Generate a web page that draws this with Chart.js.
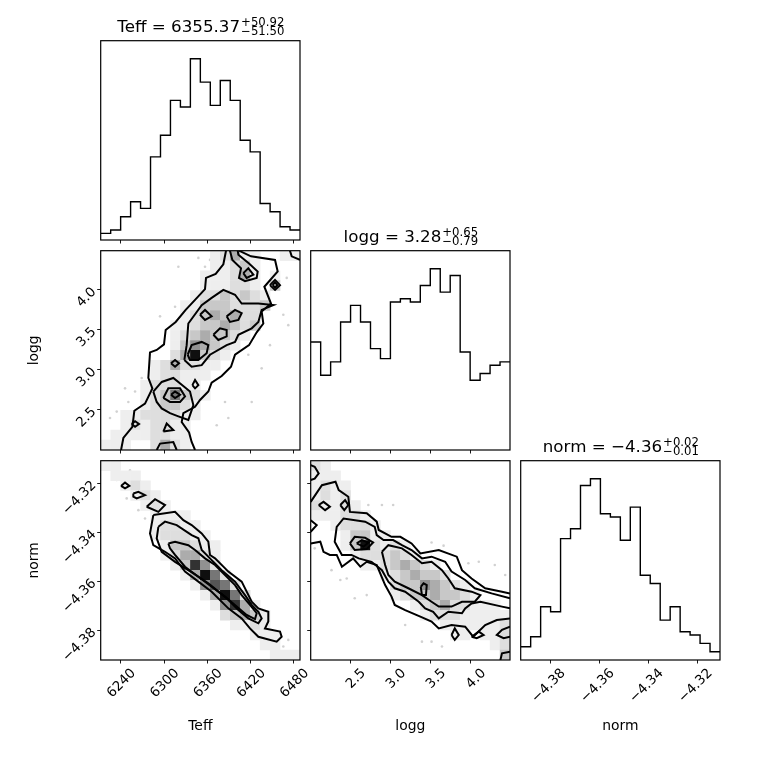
<!DOCTYPE html>
<html>
<head>
<meta charset="utf-8">
<script src="https://cdn.jsdelivr.net/npm/chart.js@4.4.0/dist/chart.umd.min.js"></script>
<style>
  html, body { margin: 0; background: #fff; }
  #wrap { position: relative; width: 760px; height: 760px; }
  #wrap canvas { position: absolute; left: 0; top: 0; }
</style>
</head>
<body>
<div id="wrap"></div>
<script>
// === DATA ===
const teffRange = [6212.3, 6488.4];
const loggRange = [2.0, 4.49];
const normRange = [-4.3921, -4.3107];

const teffTicks = [6240, 6300, 6360, 6420, 6480];
const loggTicks = [2.5, 3.0, 3.5, 4.0];
const normTicks = [-4.38, -4.36, -4.34, -4.32];

// 1d histograms, 20 bins each
const teffCounts = [4, 6, 14, 23, 19, 50, 63, 84, 80, 109, 95, 81, 96, 84, 60, 53, 22, 17, 8, 6];
const loggCounts = [65, 45, 53, 77, 87, 77, 61, 55, 89, 91, 89, 99, 109, 95, 105, 59, 42, 46, 51, 53];
const normCounts = [8, 14, 32, 29, 73, 79, 105, 109, 88, 86, 72, 92, 51, 46, 24, 32, 17, 15, 10, 5];

// name, median, +err, -err
const teffTitle = ['Teff', '6355.37', '+50.92', '\u221251.50'];
const loggTitle = ['logg', '3.28', '+0.65', '\u22120.79'];
const normTitle = ['norm', '\u22124.36', '+0.02', '\u22120.01'];

// 2d histograms, density level 0-9 per bin, top row first
const teffLoggGrid = [
  '...........12411..11',
  '...........11231....',
  '..........111241.1..',
  '..........111221.3..',
  '.........12232321...',
  '........113332223...',
  '........12343422....',
  '.......112334323....',
  '.......12343321.....',
  '.......1354321......',
  '.......249321.......',
  '.....1242211........',
  '.....122111.........',
  '....122211..........',
  '....1236321.........',
  '....123321..........',
  '..11222211..........',
  '..1212211...........',
  '.11112211...........',
  '111..2421...........'
];
const teffNormGrid = [
  '11..................',
  '.111................',
  '..121...............',
  '...121..............',
  '....121.............',
  '.....1111...........',
  '.....12211..........',
  '.....122211.........',
  '......133211........',
  '......124421........',
  '.......13852........',
  '........14962.......',
  '.........15762......',
  '..........14962.....',
  '...........15841....',
  '............23431...',
  '.............1121...',
  '...............111..',
  '................11..',
  '.................111'
];
const loggNormGrid = [
  '21..................',
  '111.................',
  '1211................',
  '1212................',
  '21121...............',
  '111221..............',
  '..12221.............',
  '...13311............',
  '...1392121..........',
  '....1222321.........',
  '.....11234321.......',
  '.......1234332......',
  '........23354321....',
  '........123343321...',
  '..........123422111.',
  '...........122211111',
  '.............1111112',
  '..............11.112',
  '..................12',
  '...................3'
];

// contour lines
const teffLoggContours = [
  [[6240.5,2.0],[6243.7,2.15],[6256.2,2.29],[6258.9,2.49],[6273.7,2.58],[6283.9,2.77],[6278.3,2.90],[6280.6,3.22],[6289.9,3.25],[6300,3.32],[6302.3,3.50],[6316.2,3.60],[6330,3.75],[6343,3.875],[6356.8,4.01],[6358.2,4.15],[6371.6,4.20],[6382.2,4.32],[6385.9,4.49]],
  [[6403.9,4.49],[6420.5,4.42],[6453.8,4.375],[6457.5,4.23],[6439,4.04],[6448.2,3.83],[6435.3,3.73],[6437.6,3.58],[6428.4,3.47],[6417.8,3.31],[6398.4,3.19],[6392.8,3.04],[6379.9,2.925],[6366,2.84],[6361.4,2.73],[6349.9,2.625],[6343,2.54],[6326.8,2.46],[6324.5,2.35],[6334.7,2.22],[6338.3,2.10],[6343,2.0]],
  [[6474.5,4.49],[6476.9,4.42],[6488.4,4.375]],
  [[6328.2,3.125],[6331.4,3.31],[6333.7,3.58],[6352.2,3.81],[6366,3.90],[6382.2,4.0],[6398.4,3.94],[6407.6,3.83],[6430.7,3.83],[6451.5,3.81],[6435.3,3.75],[6430.7,3.60],[6421.5,3.52],[6403,3.44],[6398.4,3.35],[6386.8,3.31],[6363.7,3.19],[6352.2,3.06],[6338.3,3.04],[6328.2,3.125]],
  [[6391.4,4.49],[6394.7,4.375],[6406.7,4.27],[6403.9,4.15],[6412.2,4.11],[6428.4,4.15],[6429.8,4.23],[6417.8,4.33],[6403,4.44],[6402.1,4.49]],
  [[6332.8,3.19],[6338.3,3.31],[6352.2,3.35],[6361.4,3.31],[6359.1,3.21],[6347.6,3.125],[6336,3.125],[6332.8,3.19]],
  [[6368.4,3.44],[6377.6,3.52],[6386.8,3.50],[6386.8,3.42],[6375.3,3.375],[6368.4,3.44]],
  [[6386.8,3.67],[6398.4,3.75],[6407.6,3.71],[6403,3.625],[6391.4,3.60],[6386.8,3.67]],
  [[6349.9,3.69],[6356.8,3.75],[6366,3.67],[6356.8,3.625],[6349.9,3.69]],
  [[6409.9,4.21],[6416.8,4.27],[6423.8,4.19],[6414.5,4.15],[6409.9,4.21]],
  [[6446.8,4.06],[6453.8,4.125],[6460.7,4.06],[6453.8,4.0],[6446.8,4.06]],
  [[6450.5,4.06],[6453.8,4.096],[6457,4.06],[6453.8,4.03],[6450.5,4.06]],
  [[6309.7,3.083],[6315.3,3.125],[6320.8,3.083],[6315.3,3.04],[6309.7,3.083]],
  [[6285.2,2.73],[6296.8,2.85],[6312.9,2.90],[6325.4,2.81],[6336,2.73],[6340.7,2.56],[6333.7,2.375],[6319.9,2.42],[6308.3,2.46],[6296.8,2.52],[6289.9,2.60],[6285.2,2.73]],
  [[6299.1,2.65],[6306,2.77],[6322.2,2.77],[6329.1,2.67],[6322.2,2.60],[6308.3,2.60],[6299.1,2.65]],
  [[6309.7,2.69],[6315.3,2.73],[6322.2,2.69],[6315.3,2.65],[6309.7,2.69]],
  [[6299.1,2.23],[6303.7,2.33],[6312.9,2.25],[6299.1,2.23]],
  [[6339.3,2.81],[6343,2.875],[6347.6,2.81],[6343,2.77],[6339.3,2.81]],
  [[6289.9,2.0],[6294.5,2.08],[6312.9,2.10],[6317.6,2.0]],
  [[6255.2,2.325],[6259.9,2.36],[6265.4,2.325],[6259.9,2.29],[6255.2,2.325]]
];
const teffNormContours = [
  [[6285.2,-4.3329],[6315.3,-4.3316],[6326.8,-4.3350],[6338.3,-4.3370],[6352.2,-4.3404],[6361.4,-4.3438],[6363.7,-4.3492],[6370.7,-4.3506],[6389.1,-4.3560],[6407.6,-4.3601],[6421.5,-4.3683],[6430.7,-4.3710],[6444.5,-4.3724],[6444.5,-4.3764],[6439.9,-4.3792],[6460.7,-4.3805],[6463,-4.3826],[6456.1,-4.3846],[6430.7,-4.3826],[6419.1,-4.3792],[6407.6,-4.3751],[6389.1,-4.3710],[6366,-4.3642],[6347.6,-4.3601],[6329.1,-4.3560],[6315.3,-4.3506],[6301.4,-4.3479],[6285.2,-4.3452],[6280.6,-4.3404],[6285.2,-4.3329]],
  [[6292.2,-4.3377],[6301.4,-4.3356],[6317.6,-4.3370],[6338.3,-4.3411],[6347.6,-4.3424],[6352.2,-4.3472],[6363.7,-4.3506],[6379.9,-4.3554],[6398.4,-4.3601],[6412.2,-4.3656],[6421.5,-4.3696],[6430.7,-4.3724],[6435.3,-4.3751],[6430.7,-4.3771],[6416.8,-4.3751],[6403,-4.3717],[6386.8,-4.3669],[6361.4,-4.3608],[6340.7,-4.3567],[6315.3,-4.3520],[6296.8,-4.3479],[6289.9,-4.3424],[6292.2,-4.3377]],
  [[6306,-4.3445],[6315.3,-4.3438],[6333.7,-4.3452],[6343,-4.3472],[6356.8,-4.3506],[6370.7,-4.3533],[6384.5,-4.3574],[6398.4,-4.3615],[6407.6,-4.3656],[6419.1,-4.3696],[6428.4,-4.3730],[6426.1,-4.3754],[6414.5,-4.3737],[6400.7,-4.3703],[6384.5,-4.3662],[6366,-4.3622],[6347.6,-4.3581],[6329.1,-4.3540],[6315.3,-4.3492],[6308.3,-4.3465],[6306,-4.3445]],
  [[6240.5,-4.3210],[6246,-4.3196],[6252,-4.3210],[6246,-4.3220],[6240.5,-4.3210]],
  [[6257.5,-4.3241],[6264.5,-4.3234],[6273.7,-4.3248],[6262.2,-4.3261],[6257.5,-4.3254],[6257.5,-4.3241]],
  [[6276,-4.3295],[6287.6,-4.3264],[6301.4,-4.3288],[6292.2,-4.3316],[6276,-4.3295]]
];
const loggNormContours = [
  [[2.00,-4.3275],[2.14,-4.3207],[2.31,-4.3193],[2.35,-4.3227],[2.47,-4.3254],[2.49,-4.3316],[2.70,-4.3322],[2.825,-4.3356],[2.85,-4.3390],[3.01,-4.3418],[3.12,-4.3418],[3.26,-4.3445],[3.37,-4.3486],[3.60,-4.3472],[3.825,-4.3499],[3.89,-4.3554],[4.01,-4.3588],[4.18,-4.3628],[4.39,-4.3642],[4.49,-4.3649]],
  [[4.49,-4.3751],[4.325,-4.3758],[4.18,-4.3778],[4.03,-4.3826],[3.93,-4.3785],[3.76,-4.3778],[3.60,-4.3792],[3.51,-4.3764],[3.37,-4.3744],[3.18,-4.3717],[3.05,-4.3696],[3.01,-4.3662],[2.93,-4.3615],[2.825,-4.3533],[2.70,-4.3520],[2.62,-4.3540],[2.53,-4.3506],[2.39,-4.3540],[2.325,-4.3492],[2.24,-4.3492],[2.16,-4.3479],[2.12,-4.3438],[2.00,-4.3445]],
  [[4.49,-4.3669],[4.26,-4.3649],[4.05,-4.3628],[3.93,-4.3594],[3.76,-4.3560],[3.68,-4.3520],[3.51,-4.3499],[3.39,-4.3506],[3.26,-4.3472],[3.14,-4.3452],[3.03,-4.3431],[2.91,-4.3431],[2.825,-4.3411],[2.80,-4.3377],[2.68,-4.3356],[2.41,-4.3343],[2.325,-4.3377],[2.30,-4.3438],[2.39,-4.3492],[2.51,-4.3492],[2.60,-4.3506],[2.76,-4.3520],[2.89,-4.3554],[2.97,-4.3601],[3.05,-4.3628],[3.18,-4.3642],[3.35,-4.3683],[3.43,-4.3710],[3.53,-4.3724],[3.60,-4.3751],[3.72,-4.3724],[3.89,-4.3730],[3.93,-4.3710],[4.01,-4.3690],[4.12,-4.3683],[4.39,-4.3703],[4.49,-4.3710]],
  [[2.89,-4.3479],[2.97,-4.3452],[3.14,-4.3465],[3.26,-4.3492],[3.39,-4.3526],[3.51,-4.3520],[3.64,-4.3554],[3.72,-4.3588],[3.80,-4.3628],[4.01,-4.3642],[4.12,-4.3656],[4.05,-4.3683],[3.89,-4.3683],[3.76,-4.3703],[3.60,-4.3703],[3.51,-4.3683],[3.39,-4.3656],[3.22,-4.3628],[3.05,-4.3601],[2.97,-4.3574],[2.93,-4.3533],[2.89,-4.3479]],
  [[2.49,-4.3445],[2.55,-4.3418],[2.68,-4.3422],[2.78,-4.3441],[2.70,-4.3468],[2.55,-4.3472],[2.49,-4.3445]],
  [[2.575,-4.3445],[2.64,-4.3431],[2.72,-4.3441],[2.66,-4.3458],[2.575,-4.3445]],
  [[3.375,-4.3622],[3.41,-4.3608],[3.45,-4.3615],[3.44,-4.3656],[3.39,-4.3656],[3.375,-4.3622]],
  [[3.76,-4.3819],[3.80,-4.3792],[3.85,-4.3819],[3.80,-4.3839],[3.76,-4.3819]],
  [[2.0,-4.3125],[2.05,-4.3132],[2.10,-4.3159],[2.05,-4.3180],[2.0,-4.3186]],
  [[2.10,-4.3288],[2.16,-4.3275],[2.24,-4.3295],[2.18,-4.3309],[2.10,-4.3288]],
  [[2.37,-4.3288],[2.43,-4.3268],[2.47,-4.3288],[2.42,-4.3309],[2.37,-4.3288]],
  [[2.0,-4.3350],[2.075,-4.3370],[2.0,-4.3397]],
  [[4.01,-4.3826],[4.10,-4.3805],[4.16,-4.3819],[4.075,-4.3832],[4.01,-4.3826]],
  [[4.49,-4.3785],[4.39,-4.3798],[4.325,-4.3819],[4.41,-4.3832],[4.49,-4.3826]],
  [[4.37,-4.3921],[4.39,-4.3894],[4.49,-4.3887]]
];

// samples outside the outer contour
const teffLoggDots = [[6220.6,2.06],[6225.2,2.40],[6234.5,2.48],[6246,2.77],[6250.6,2.60],[6259.9,2.73],[6269.1,2.90],[6294.5,3.67],[6315.3,3.79],[6319.9,4.29],[6347.6,4.40],[6356.8,4.29],[6363.7,4.375],[6416.8,3.19],[6421.5,2.60],[6435.3,3.02],[6446.8,3.31],[6465.3,3.69],[6470,4.15],[6472.2,3.56],[6389.1,2.40],[6384.5,2.60],[6373,2.31]];
const teffNormDots = [[6222.9,-4.3125],[6229.8,-4.3159],[6234.5,-4.3186],[6252.9,-4.3146],[6256.2,-4.3177],[6248.3,-4.3261],[6262.2,-4.3214],[6264.5,-4.3309],[6273.7,-4.3343],[6343,-4.3356],[6370.7,-4.3492],[6453.8,-4.3873],[6465.3,-4.3866],[6472.2,-4.3839],[6481.5,-4.3900],[6456.1,-4.3914]];
const loggNormDots = [[2.05,-4.3465],[2.26,-4.3554],[2.37,-4.3594],[2.45,-4.3588],[2.55,-4.3669],[2.70,-4.3656],[2.72,-4.3288],[2.89,-4.3288],[3.03,-4.3288],[3.51,-4.3441],[3.66,-4.3454],[3.97,-4.3526],[4.10,-4.3520],[4.30,-4.3533],[4.43,-4.3574],[3.18,-4.3778],[3.39,-4.3846],[3.51,-4.3846],[3.64,-4.3866]];

// === STYLE ===
const FONT = 'DejaVu Sans';
const PANEL = 199.3, GAP = 210, X0 = 100.7, Y0 = 40.7;
const SHADES = [255, 238, 222, 200, 172, 145, 118, 85, 50, 15];
Chart.defaults.font.family = FONT;
Chart.defaults.color = '#000';

// === DATASETS ===
function histDataset(counts, range) {
  const w = (range[1] - range[0]) / counts.length;
  const pts = [];
  counts.forEach((c, i) => {
    pts.push({ x: range[0] + i * w, y: c });
    pts.push({ x: range[0] + (i + 1) * w, y: c });
  });
  return { data: pts, showLine: true, borderColor: '#000', borderWidth: 1.4, pointRadius: 0, tension: 0 };
}

function cellDataset(grid, xr, yr) {
  const nx = grid[0].length, ny = grid.length;
  const dx = (xr[1] - xr[0]) / nx, dy = (yr[1] - yr[0]) / ny;
  const pts = [];
  grid.forEach((row, r) => [...row].forEach((ch, c) => {
    if (ch === '.') return;
    pts.push({ x: xr[0] + (c + 0.5) * dx, y: yr[1] - (r + 0.5) * dy, v: +ch });
  }));
  return {
    data: pts, order: 1, pointStyle: 'rect', borderWidth: 0,
    pointRadius: ctx => {
      const s = ctx.chart.scales.x;
      return Math.abs(s.getPixelForValue(xr[0] + dx) - s.getPixelForValue(xr[0])) / Math.SQRT2 + 0.35;
    },
    backgroundColor: ctx => {
      const g = SHADES[ctx.raw ? ctx.raw.v : 0];
      return `rgb(${g},${g},${g})`;
    }
  };
}

function contourDatasets(lines) {
  return lines.map(l => ({
    data: l.map(p => ({ x: p[0], y: p[1] })), order: 0, showLine: true,
    borderColor: '#000', borderWidth: 2, pointRadius: 0, tension: 0
  }));
}

function dotDataset(dots) {
  return { data: dots.map(p => ({ x: p[0], y: p[1] })), order: 2, pointRadius: 1.3, borderWidth: 0, backgroundColor: 'rgba(0,0,0,0.18)' };
}

// === PLUGINS ===
const framePlugin = {
  id: 'frame',
  afterDatasetsDraw(chart) {
    const { ctx, chartArea: a } = chart;
    ctx.save();
    ctx.strokeStyle = '#000';
    ctx.lineWidth = 1.2;
    ctx.strokeRect(a.left, a.top, a.right - a.left, a.bottom - a.top);
    ctx.restore();
  }
};

const titlePlugin = {
  id: 'panelTitle',
  afterDraw(chart, args, opts) {
    const t = opts.text;
    if (!t) return;
    const { ctx, chartArea: a } = chart;
    const main = t[0] + ' = ' + t[1];
    ctx.save();
    ctx.fillStyle = '#000';
    ctx.textBaseline = 'alphabetic';
    ctx.font = `16.7px "${FONT}"`;
    const w1 = ctx.measureText(main).width;
    ctx.font = `11.7px "${FONT}"`;
    const w2 = Math.max(ctx.measureText(t[2]).width, ctx.measureText(t[3]).width);
    const x = (a.left + a.right) / 2 - (w1 + w2) / 2;
    const base = a.top - 9;
    ctx.font = `16.7px "${FONT}"`;
    ctx.fillText(main, x, base);
    ctx.font = `11.7px "${FONT}"`;
    ctx.fillText(t[2], x + w1 + 1, base - 6);
    ctx.fillText(t[3], x + w1 + 1, base + 3.3);
    ctx.restore();
  }
};

// === PANELS ===
function fmt(dec) {
  return v => v.toFixed(dec).replace('-', '\u2212');
}

function axis(range, ticks, dec, mode, title, horizontal) {
  // mode: 'labels' | 'ticks' | 'none'
  const size = mode === 'labels' ? (horizontal ? 74.3 : 75) : mode === 'ticks' ? 4 : 0;
  return {
    type: 'linear', min: range[0], max: range[1], display: mode !== 'none',
    afterBuildTicks: s => { s.ticks = ticks.map(v => ({ value: v })); },
    afterFit: s => { if (horizontal) s.height = size; else s.width = size; },
    grid: { drawOnChartArea: false, drawTicks: true, tickLength: 3.5, color: '#000', lineWidth: 0.9 },
    border: { display: false },
    ticks: {
      display: mode === 'labels', minRotation: 45, maxRotation: 45, autoSkip: false,
      font: { size: 13.5 }, color: '#000', padding: horizontal ? 2 : 3,
      labelOffset: horizontal ? 13 : 0, callback: fmt(dec)
    },
    title: { display: !!title, text: title || '', font: { size: 13.9 }, color: '#000', padding: 0 },
    _size: size
  };
}

function makePanel(col, row, datasets, xAxis, yAxis, title) {
  const cv = document.createElement('canvas');
  cv.width = 760; cv.height = 760;
  document.getElementById('wrap').appendChild(cv);
  const left = X0 + col * GAP, top = Y0 + row * GAP;
  new Chart(cv, {
    type: 'scatter',
    data: { datasets },
    options: {
      responsive: false, animation: false, events: [],
      layout: { padding: {
        left: left - yAxis._size, top: top,
        right: 760 - left - PANEL, bottom: 760 - top - PANEL - xAxis._size
      } },
      plugins: { legend: { display: false }, tooltip: { enabled: false }, panelTitle: { text: title } },
      scales: { x: xAxis, y: yAxis }
    },
    plugins: [framePlugin, titlePlugin]
  });
}

function histAxisY(counts) {
  return axis([0, Math.max(...counts) * 1.1], [], 0, 'none', null, false);
}

makePanel(0, 0, [histDataset(teffCounts, teffRange)],
  axis(teffRange, teffTicks, 0, 'ticks', null, true), histAxisY(teffCounts), teffTitle);

makePanel(0, 1, [...contourDatasets(teffLoggContours), cellDataset(teffLoggGrid, teffRange, loggRange), dotDataset(teffLoggDots)],
  axis(teffRange, teffTicks, 0, 'ticks', null, true), axis(loggRange, loggTicks, 1, 'labels', 'logg', false), null);

makePanel(1, 1, [histDataset(loggCounts, loggRange)],
  axis(loggRange, loggTicks, 1, 'ticks', null, true), histAxisY(loggCounts), loggTitle);

makePanel(0, 2, [...contourDatasets(teffNormContours), cellDataset(teffNormGrid, teffRange, normRange), dotDataset(teffNormDots)],
  axis(teffRange, teffTicks, 0, 'labels', 'Teff', true), axis(normRange, normTicks, 2, 'labels', 'norm', false), null);

makePanel(1, 2, [...contourDatasets(loggNormContours), cellDataset(loggNormGrid, loggRange, normRange), dotDataset(loggNormDots)],
  axis(loggRange, loggTicks, 1, 'labels', 'logg', true), axis(normRange, normTicks, 2, 'ticks', null, false), null);

makePanel(2, 2, [histDataset(normCounts, normRange)],
  axis(normRange, normTicks, 2, 'labels', 'norm', true), histAxisY(normCounts), normTitle);
</script>
</body>
</html>
